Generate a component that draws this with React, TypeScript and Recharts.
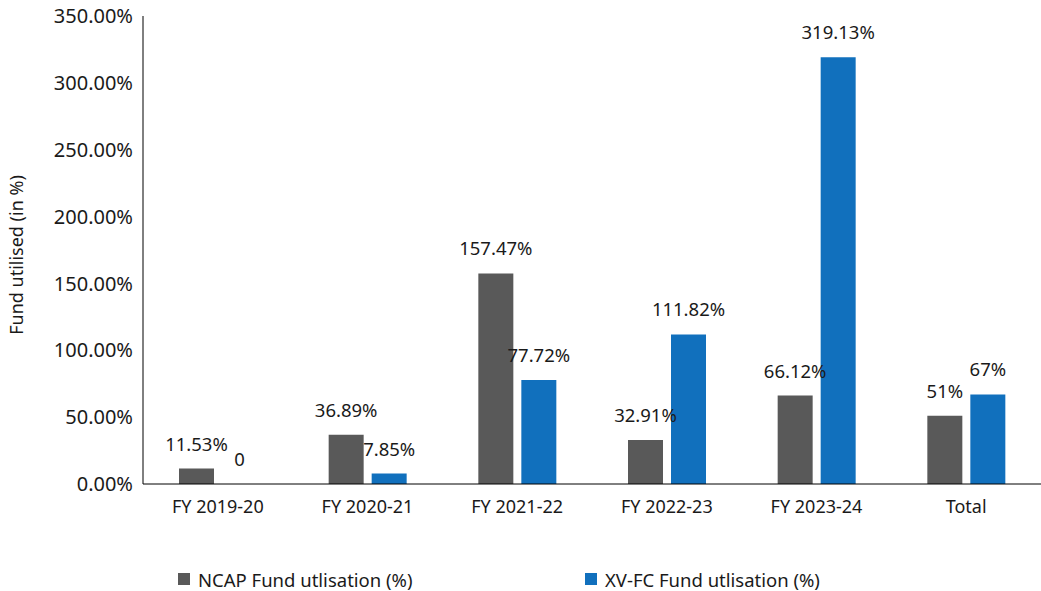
import { BarChart, Bar, XAxis, YAxis, Legend, LabelList } from "recharts";

const years = ["FY 2019-20", "FY 2020-21", "FY 2021-22", "FY 2022-23", "FY 2023-24", "Total"];
const ncapUse = [11.53, 36.89, 157.47, 32.91, 66.12, 51];
const xvfcUse = [0, 7.85, 77.72, 111.82, 319.13, 67];
const yTicks = [0, 50, 100, 150, 200, 250, 300, 350];

const NCAP_NAME = "NCAP Fund utlisation (%)";
const XVFC_NAME = "XV-FC Fund utlisation (%)";
const GREY = "#595959";
const BLUE = "#1170bd";
const FONT = "'Noto Sans', sans-serif";
const TEXT = "#1a1a1a";

const data = years.map((year, i) => ({ year, ncap: ncapUse[i], xvfc: xvfcUse[i] }));

const fmtLabel = (v: any) => (Number(v) === 0 ? "0" : `${v}%`);

// custom legend, two items spread out like the original
const LegendContent = () => (
  <div style={{ position: "relative", height: 67, fontFamily: FONT, fontSize: 18.5, color: TEXT }}>
    {[
      { name: NCAP_NAME, color: GREY, left: 178 },
      { name: XVFC_NAME, color: BLUE, left: 585 },
    ].map((it) => (
      <div key={it.name} style={{ position: "absolute", left: it.left, top: 43, height: 24, display: "flex", alignItems: "center" }}>
        <span style={{ width: 12, height: 12, background: it.color, display: "inline-block", marginRight: 8 }} />
        <span>{it.name}</span>
      </div>
    ))}
  </div>
);

export default function App() {
  return (
    <div style={{ position: "absolute", left: 0, top: 0, background: "#fff" }}>
      <BarChart
        width={1041}
        height={591}
        data={data}
        margin={{ top: 16, right: 0, bottom: 0, left: 0 }}
        barSize={35}
        barGap={8}
      >
        <XAxis
          dataKey="year"
          axisLine={{ stroke: "#000" }}
          tickLine={false}
          tick={{ fill: TEXT, fontSize: 18, fontFamily: FONT }}
          tickMargin={10}
          height={40}
        />
        <YAxis
          domain={[0, 350]}
          ticks={yTicks}
          width={143}
          axisLine={{ stroke: "#000" }}
          tickLine={false}
          tickMargin={4}
          tickFormatter={(v) => `${Number(v).toFixed(2)}%`}
          tick={{ fill: TEXT, fontSize: 20, fontFamily: FONT }}
          label={{
            value: "Fund utilised (in %)",
            angle: -90,
            position: "insideLeft",
            dx: 12,
            dy: 5,
            style: { textAnchor: "middle", fill: TEXT, fontSize: 18, fontFamily: FONT },
          }}
        />
        <Legend verticalAlign="bottom" content={<LegendContent />} />
        <Bar dataKey="ncap" name={NCAP_NAME} fill={GREY} isAnimationActive={false}>
          <LabelList dataKey="ncap" position="top" offset={18} formatter={fmtLabel} style={{ fill: TEXT, fontSize: 18.5, fontFamily: FONT }} />
        </Bar>
        <Bar dataKey="xvfc" name={XVFC_NAME} fill={BLUE} minPointSize={0.01} isAnimationActive={false}>
          <LabelList dataKey="xvfc" position="top" offset={18} formatter={fmtLabel} style={{ fill: TEXT, fontSize: 18.5, fontFamily: FONT }} />
        </Bar>
      </BarChart>
    </div>
  );
}
